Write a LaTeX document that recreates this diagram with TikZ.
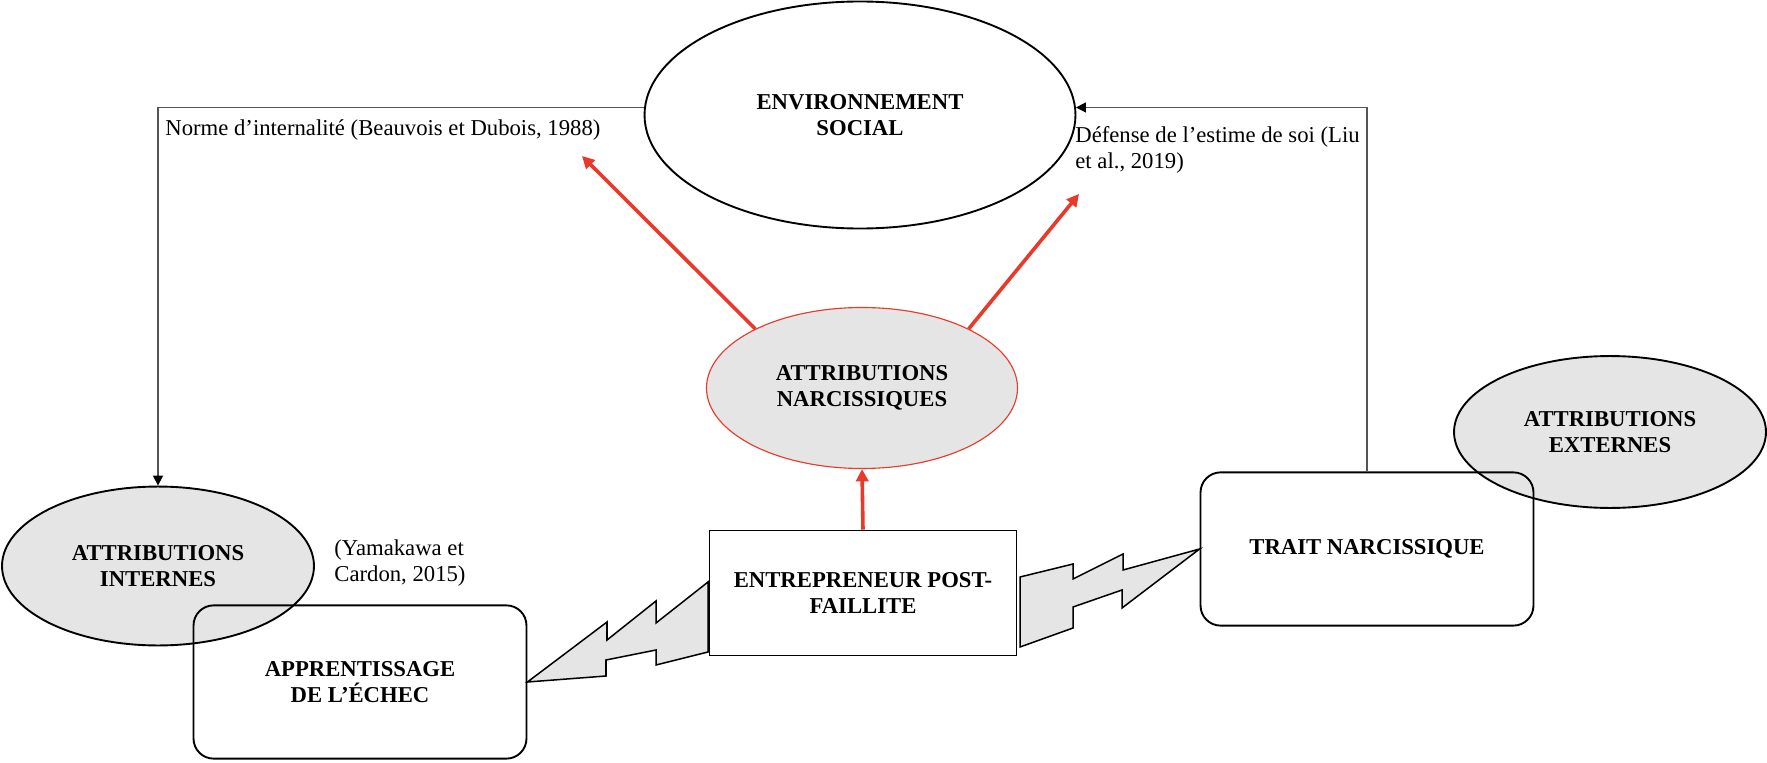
\documentclass[tikz,border=0pt]{standalone}
\usepackage{fontspec}
\setmainfont{Liberation Serif}
\usepackage{xcolor}
\usepackage{tikz}
\usetikzlibrary{shapes.geometric,arrows.meta,positioning}
\definecolor{attgray}{HTML}{E5E5E5}
\definecolor{narcred}{HTML}{E8392A}
\definecolor{linkgray}{HTML}{555555}

\begin{document}
\begin{tikzpicture}[x=0.5286pt,y=-0.5286pt,
    lbl/.style={font=\fontsize{12}{13.8}\selectfont\bfseries,align=center,inner sep=0pt},
    note/.style={font=\fontsize{12}{13.8}\selectfont,align=left,inner sep=0pt},
    attell/.style={ellipse,draw,line width=1pt,fill=attgray,inner sep=0pt,minimum width=164.9pt,minimum height=84pt},
    roundbox/.style={draw,line width=1pt,rounded corners=10.6pt,minimum width=176pt,minimum height=81pt},
    link/.style={draw=linkgray,line width=0.7pt,-{Triangle[length=5.3pt,width=5.3pt,black]}},
    redlink/.style={draw=narcred,line width=1.9pt,-{Triangle[length=6.5pt,width=6.5pt]}},
    bolt/.style={draw,line width=0.8pt,fill=attgray,line join=miter}]
  \useasboundingbox (0,0) rectangle (1767,763);
  \node[ellipse,draw,line width=1pt,inner sep=0pt,minimum width=227.8pt,minimum height=120pt,lbl] (env) at (860,115) {ENVIRONNEMENT\\SOCIAL};
  \node[ellipse,draw=narcred,line width=0.6pt,fill=attgray,inner sep=0pt,minimum width=164.4pt,minimum height=85.1pt,lbl] (narc) at (862,388) {ATTRIBUTIONS\\NARCISSIQUES};
  \node[attell,lbl] (intern) at (158,566) {ATTRIBUTIONS\\INTERNES};
  \node[attell,lbl,minimum height=80.3pt] (extern) at (1610,432) {ATTRIBUTIONS\\EXTERNES};
  \node[draw,line width=0.8pt,minimum width=162.3pt,minimum height=66.1pt,lbl] (ent) at (863,593) {ENTREPRENEUR POST-\\FAILLITE};
  \node[roundbox,lbl] (app) at (360,682) {APPRENTISSAGE\\DE L’ÉCHEC};
  \node[roundbox,lbl] (trait) at (1367,549) {TRAIT NARCISSIQUE};
  \node[note,anchor=west] (norme) at (165,130) {Norme d’internalité (Beauvois et Dubois, 1988)};
  \node[note,anchor=west] (defense) at (1075,150) {Défense de l’estime de soi (Liu\\et al., 2019)};
  \node[note,anchor=west] (yamakawa) at (334,563) {(Yamakawa et\\Cardon, 2015)};
  \coordinate (normetip) at (582,156);
  \coordinate (defensetip) at (1079,194);
  \draw[link] (env.178) -| (intern.north);
  \draw[link] (trait.north) |- (env.2);
  \draw[redlink] (ent.north) -- (narc.south);
  \draw[redlink] (narc.151) -- (normetip);
  \draw[redlink] (narc.29) -- (defensetip);
  \draw[bolt] (app.east) -- (607,622) -- (607,640) -- (656,601) -- (656,623) -- (708,582) -- (708,652) -- (656,665) -- (656,650) -- (606,660) -- (606,676) -- cycle;
  \draw[bolt] (1020,577) -- (1073,564) -- (1073,579) -- (1123,554) -- (1123,570) -- (trait.west) -- (1122,608) -- (1122,590) -- (1073,607) -- (1073,628) -- (1020,647) -- cycle;
\end{tikzpicture}
\end{document}
